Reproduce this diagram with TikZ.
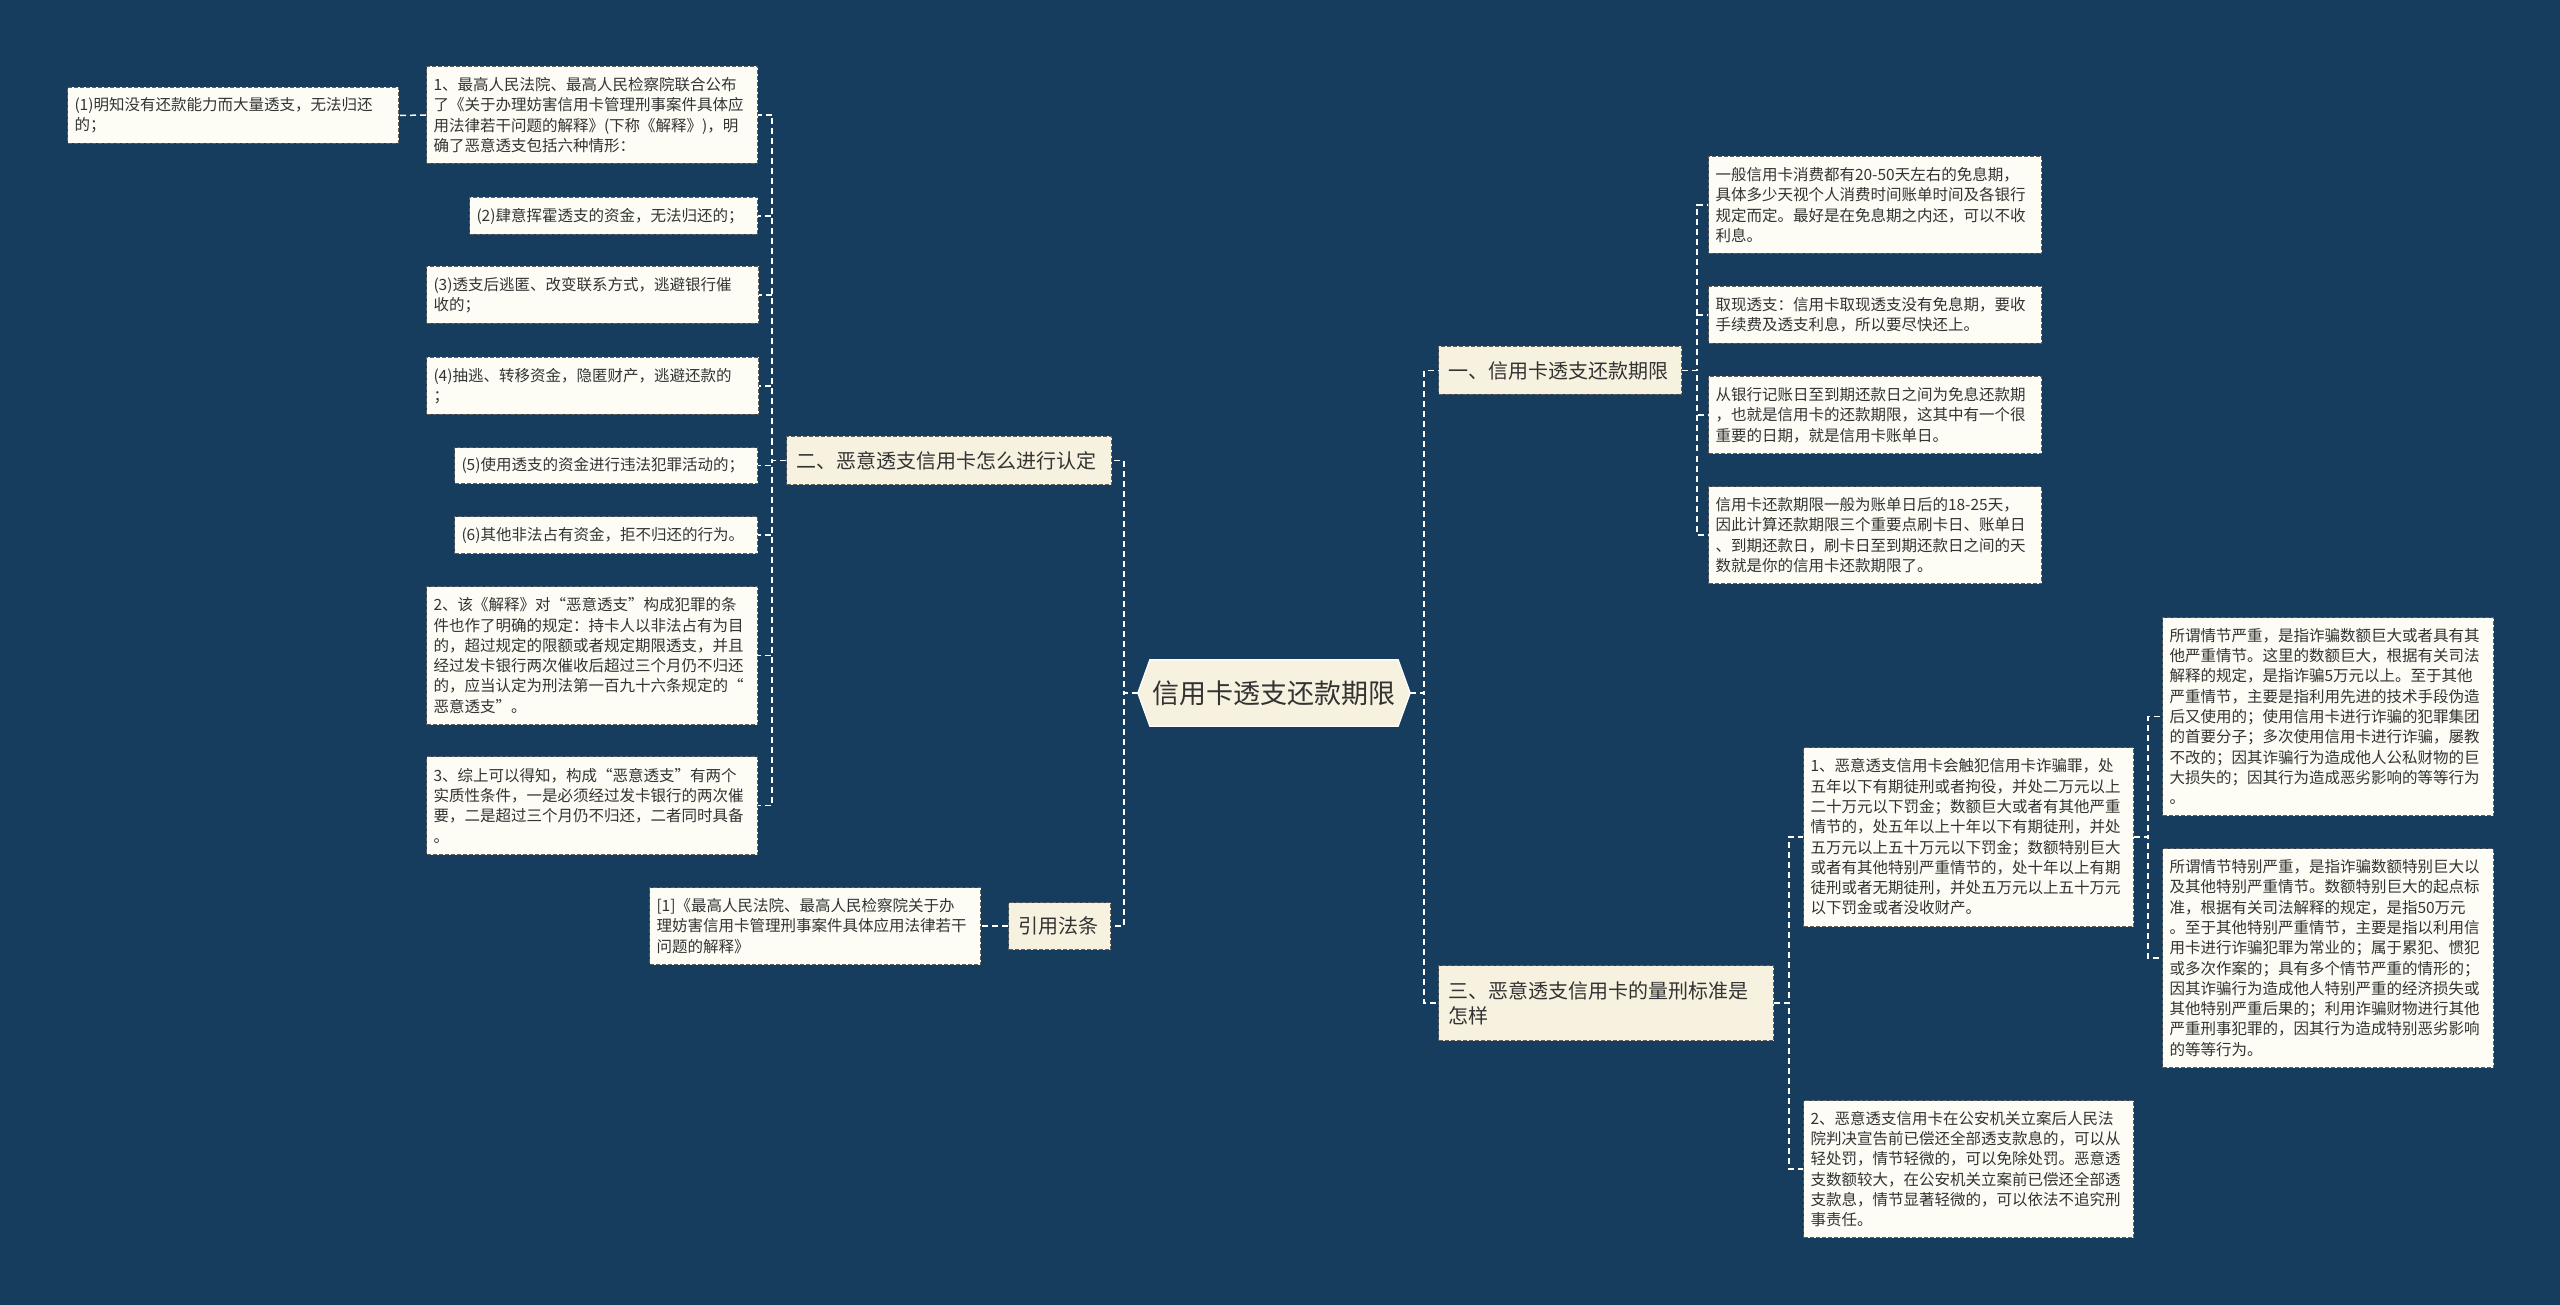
\documentclass[tikz,border=0pt]{standalone}
\usepackage{fontspec}
\newfontfamily\cjk{Noto Sans CJK SC}
\usetikzlibrary{backgrounds}
\definecolor{bgc}{HTML}{173D5E}
\definecolor{leaffill}{HTML}{FDFDF6}
\definecolor{mainfill}{HTML}{F7F2E0}
\definecolor{bordc}{HTML}{5E5E5E}
\definecolor{txt}{HTML}{333333}
\tikzset{
  leaf/.style={draw=bordc, fill=leaffill, dash pattern=on 4pt off 2pt, line width=1pt,
    inner xsep=7pt, inner ysep=3pt, align=left, anchor=north west, text=txt,
    font=\cjk\fontsize{15.5}{20.3}\selectfont},
  lvl/.style={draw=bordc, fill=mainfill, dash pattern=on 4pt off 2pt, line width=1pt,
    inner xsep=10pt, inner ysep=3pt, align=left, anchor=north west, text=txt,
    font=\cjk\fontsize{20}{25}\selectfont},
  rootn/.style={minimum width=272pt, minimum height=66pt, inner sep=0pt, text=txt,
    font=\cjk\fontsize{27}{32}\selectfont},
  conn/.style={draw=white, line width=1.5pt, dash pattern=on 6pt off 4pt},
}
\begin{document}
\begin{tikzpicture}[x=1pt,y=-1pt]
\useasboundingbox (0,0) rectangle (2560,1305);

% root
\node[rootn] (root) at (1274,693) {信用卡透支还款期限};

% level 1
\node[lvl, text width=223pt, minimum height=48pt] (n1) at (1438,346) {一、信用卡透支还款期限};
\node[lvl, text width=315pt, minimum height=75pt] (n3) at (1438,965) {三、恶意透支信用卡的量刑标准是\\怎样};
\node[lvl, text width=305pt, minimum height=48pt] (n2) at (786,436) {二、恶意透支信用卡怎么进行认定};
\node[lvl, text width=82pt, minimum height=47pt] (n4) at (1008,902) {引用法条};

% right leaves of n1
\node[leaf, text width=319pt, minimum height=97pt] (r1) at (1708,156) {一般信用卡消费都有20-50天左右的免息期，\\具体多少天视个人消费时间账单时间及各银行\\规定而定。最好是在免息期之内还，可以不收\\利息。};
\node[leaf, text width=319pt, minimum height=57pt] (r2) at (1708,286) {取现透支：信用卡取现透支没有免息期，要收\\手续费及透支利息，所以要尽快还上。};
\node[leaf, text width=319pt, minimum height=77pt] (r3) at (1708,376) {从银行记账日至到期还款日之间为免息还款期\\，也就是信用卡的还款期限，这其中有一个很\\重要的日期，就是信用卡账单日。};
\node[leaf, text width=319pt, minimum height=97pt] (r4) at (1708,486) {信用卡还款期限一般为账单日后的18-25天，\\因此计算还款期限三个重要点刷卡日、账单日\\、到期还款日，刷卡日至到期还款日之间的天\\数就是你的信用卡还款期限了。};

% leaves of n3
\node[leaf, text width=316pt, minimum height=179pt] (s1) at (1803,747) {1、恶意透支信用卡会触犯信用卡诈骗罪，处\\五年以下有期徒刑或者拘役，并处二万元以上\\二十万元以下罚金；数额巨大或者有其他严重\\情节的，处五年以上十年以下有期徒刑，并处\\五万元以上五十万元以下罚金；数额特别巨大\\或者有其他特别严重情节的，处十年以上有期\\徒刑或者无期徒刑，并处五万元以上五十万元\\以下罚金或者没收财产。};
\node[leaf, text width=316pt, minimum height=137pt] (s2) at (1803,1100) {2、恶意透支信用卡在公安机关立案后人民法\\院判决宣告前已偿还全部透支款息的，可以从\\轻处罚，情节轻微的，可以免除处罚。恶意透\\支数额较大，在公安机关立案前已偿还全部透\\支款息，情节显著轻微的，可以依法不追究刑\\事责任。};

% leaves of s1
\node[leaf, text width=317pt, minimum height=198pt] (t1) at (2162,617) {所谓情节严重，是指诈骗数额巨大或者具有其\\他严重情节。这里的数额巨大，根据有关司法\\解释的规定，是指诈骗5万元以上。至于其他\\严重情节，主要是指利用先进的技术手段伪造\\后又使用的；使用信用卡进行诈骗的犯罪集团\\的首要分子；多次使用信用卡进行诈骗，屡教\\不改的；因其诈骗行为造成他人公私财物的巨\\大损失的；因其行为造成恶劣影响的等等行为\\。};
\node[leaf, text width=317pt, minimum height=219pt] (t2) at (2162,848) {所谓情节特别严重，是指诈骗数额特别巨大以\\及其他特别严重情节。数额特别巨大的起点标\\准，根据有关司法解释的规定，是指50万元\\。至于其他特别严重情节，主要是指以利用信\\用卡进行诈骗犯罪为常业的；属于累犯、惯犯\\或多次作案的；具有多个情节严重的情形的；\\因其诈骗行为造成他人特别严重的经济损失或\\其他特别严重后果的；利用诈骗财物进行其他\\严重刑事犯罪的，因其行为造成特别恶劣影响\\的等等行为。};

% leaves of n2
\node[leaf, text width=317pt, minimum height=97pt] (L1) at (426,66) {1、最高人民法院、最高人民检察院联合公布\\了《关于办理妨害信用卡管理刑事案件具体应\\用法律若干问题的解释》(下称《解释》)，明\\确了恶意透支包括六种情形：};
\node[leaf, text width=317pt, minimum height=56pt] (c1) at (67,87) {(1)明知没有还款能力而大量透支，无法归还\\的；};
\node[leaf, text width=274pt, minimum height=37pt] (c2) at (469,197) {(2)肆意挥霍透支的资金，无法归还的；};
\node[leaf, text width=318pt, minimum height=57pt] (c3) at (426,266) {(3)透支后逃匿、改变联系方式，逃避银行催\\收的；};
\node[leaf, text width=318pt, minimum height=57pt] (c4) at (426,357) {(4)抽逃、转移资金，隐匿财产，逃避还款的\\；};
\node[leaf, text width=289pt, minimum height=36pt] (c5) at (454,447) {(5)使用透支的资金进行违法犯罪活动的；};
\node[leaf, text width=289pt, minimum height=37pt] (c6) at (454,516) {(6)其他非法占有资金，拒不归还的行为。};
\node[leaf, text width=317pt, minimum height=138pt] (L2) at (426,586) {2、该《解释》对“恶意透支”构成犯罪的条\\件也作了明确的规定：持卡人以非法占有为目\\的，超过规定的限额或者规定期限透支，并且\\经过发卡银行两次催收后超过三个月仍不归还\\的，应当认定为刑法第一百九十六条规定的“\\恶意透支”。};
\node[leaf, text width=317pt, minimum height=98pt] (L3) at (426,756) {3、综上可以得知，构成“恶意透支”有两个\\实质性条件，一是必须经过发卡银行的两次催\\要，二是超过三个月仍不归还，二者同时具备\\。};

% leaf of n4
\node[leaf, text width=317pt, minimum height=77pt] (ref) at (649,887) {[1]《最高人民法院、最高人民检察院关于办\\理妨害信用卡管理刑事案件具体应用法律若干\\问题的解释》};

% background and root shape
\begin{scope}[on background layer]
\fill[bgc] (0,0) rectangle (2560,1305);
\filldraw[fill=mainfill, draw=white, line width=1.2pt]
  (root.west) -- ([xshift=12pt]root.north west) -- ([xshift=-12pt]root.north east)
  -- (root.east) -- ([xshift=-12pt]root.south east) -- ([xshift=12pt]root.south west) -- cycle;
\end{scope}

% connectors
\foreach \c in {n1,n3} \draw[conn] (root.east) -- ++(14,0) |- (\c.west);
\foreach \c in {n2,n4} \draw[conn] (root.west) -- ++(-14,0) |- (\c.east);
\foreach \c in {r1,r2,r3,r4} \draw[conn] (n1.east) -- ++(15,0) |- (\c.west);
\foreach \c in {s1,s2} \draw[conn] (n3.east) -- ++(15,0) |- (\c.west);
\foreach \c in {t1,t2} \draw[conn] (s1.east) -- ++(14,0) |- (\c.west);
\foreach \c in {L1,c2,c3,c4,c5,c6,L2,L3} \draw[conn] (n2.west) -- ++(-14,0) |- (\c.east);
\draw[conn] (L1.west) -- (c1.east);
\draw[conn] (n4.west) -- (ref.east);
\end{tikzpicture}
\end{document}
